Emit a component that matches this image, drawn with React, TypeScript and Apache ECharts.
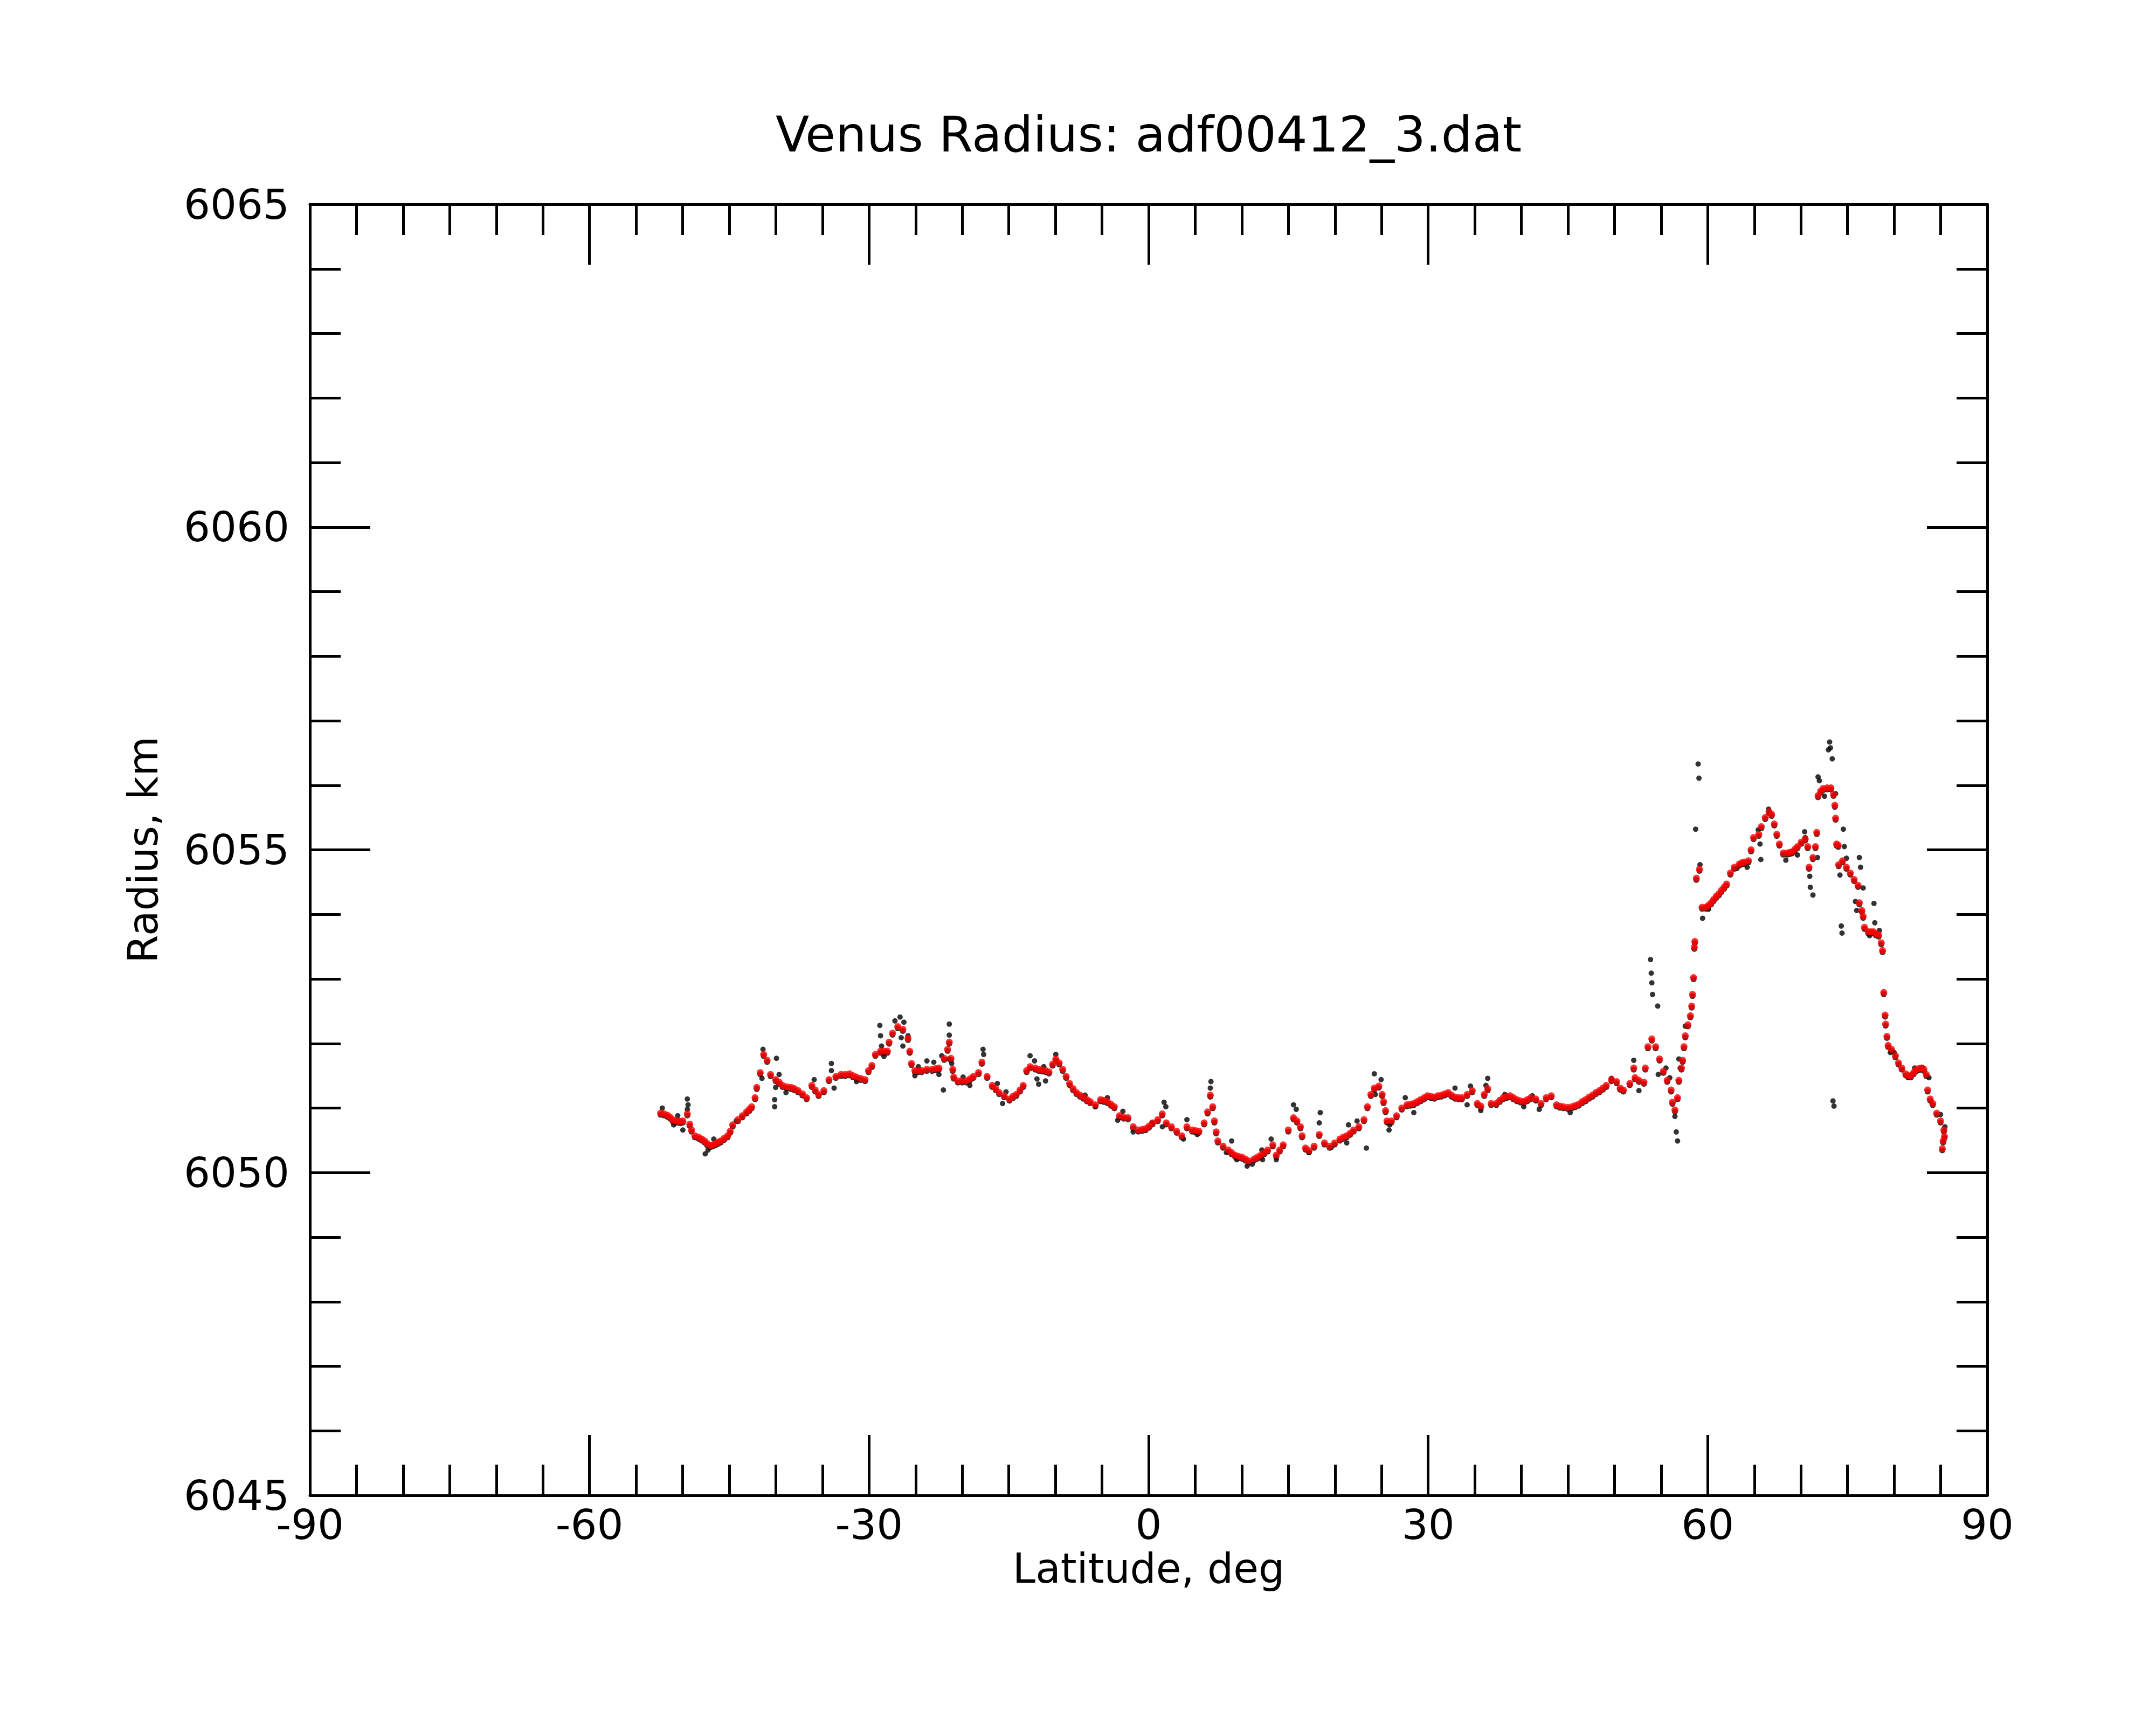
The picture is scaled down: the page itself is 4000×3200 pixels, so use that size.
import React, { useEffect, useRef } from "react";
import * as echarts from "echarts";

const TITLE = "Venus Radius: adf00412_3.dat";
const X_NAME = "Latitude, deg";
const Y_NAME = "Radius, km";
const X_MIN = -90;
const X_MAX = 90;
const X_STEP = 30;
const Y_MIN = 6045;
const Y_MAX = 6065;
const Y_STEP = 5;

// smoothed radius profile (red points): [latitude deg, radius km]
const smoothRadius: [number, number][] = [
  [-52.37, 6050.92], [-52.0, 6050.91], [-51.64, 6050.89], [-51.35, 6050.86], [-51.08, 6050.82],
  [-50.8, 6050.8], [-50.53, 6050.8], [-50.25, 6050.79], [-49.98, 6050.8], [-49.5, 6050.91],
  [-49.24, 6050.75], [-49.05, 6050.66], [-48.69, 6050.57], [-48.3, 6050.55], [-47.95, 6050.52],
  [-47.65, 6050.49], [-47.39, 6050.45], [-47.03, 6050.42], [-46.75, 6050.43], [-46.47, 6050.45],
  [-46.2, 6050.47], [-45.92, 6050.49], [-45.55, 6050.53], [-45.18, 6050.57], [-44.9, 6050.64],
  [-44.63, 6050.74], [-44.07, 6050.82], [-43.6, 6050.88], [-43.15, 6050.94], [-42.85, 6050.98],
  [-42.6, 6051.02], [-42.23, 6051.16], [-42.05, 6051.32], [-41.68, 6051.55], [-41.31, 6051.83],
  [-40.94, 6051.74], [-40.57, 6051.52], [-40.02, 6051.44], [-39.65, 6051.4], [-39.28, 6051.35],
  [-38.82, 6051.33], [-38.36, 6051.32], [-38.0, 6051.3], [-37.62, 6051.27], [-37.15, 6051.22],
  [-36.7, 6051.16], [-36.14, 6051.35], [-35.78, 6051.28], [-35.41, 6051.21], [-34.85, 6051.27],
  [-34.3, 6051.44], [-33.56, 6051.49], [-33.01, 6051.52], [-32.55, 6051.52], [-32.09, 6051.53],
  [-31.72, 6051.5], [-31.35, 6051.48], [-30.9, 6051.46], [-30.43, 6051.44], [-30.06, 6051.58],
  [-29.69, 6051.66], [-29.32, 6051.83], [-28.77, 6051.88], [-28.4, 6051.88], [-28.03, 6051.88],
  [-27.85, 6052.02], [-27.48, 6052.16], [-26.92, 6052.26], [-26.37, 6052.22], [-25.82, 6052.08],
  [-25.63, 6051.88], [-25.45, 6051.69], [-25.08, 6051.58], [-24.71, 6051.58], [-24.34, 6051.58],
  [-23.8, 6051.6], [-23.23, 6051.6], [-22.85, 6051.61], [-22.5, 6051.62], [-21.94, 6051.77],
  [-21.57, 6051.91], [-21.39, 6052.02], [-21.21, 6051.77], [-21.02, 6051.6], [-20.91, 6051.48],
  [-20.47, 6051.42], [-20.0, 6051.42], [-19.55, 6051.42], [-19.18, 6051.45], [-18.81, 6051.49],
  [-18.25, 6051.55], [-17.89, 6051.71], [-17.33, 6051.49], [-16.78, 6051.35], [-16.4, 6051.3],
  [-16.04, 6051.24], [-15.49, 6051.19], [-14.93, 6051.14], [-14.55, 6051.18], [-14.2, 6051.21],
  [-13.8, 6051.28], [-13.46, 6051.35], [-13.09, 6051.58], [-12.72, 6051.64], [-12.17, 6051.62],
  [-11.8, 6051.6], [-11.43, 6051.59], [-11.05, 6051.58], [-10.69, 6051.56], [-10.3, 6051.68],
  [-9.96, 6051.76], [-9.6, 6051.7], [-9.22, 6051.6], [-8.85, 6051.49], [-8.48, 6051.38],
  [-8.1, 6051.3], [-7.74, 6051.24], [-7.37, 6051.2], [-7.0, 6051.17], [-6.63, 6051.13],
  [-6.27, 6051.1], [-5.71, 6051.05], [-5.16, 6051.13], [-4.8, 6051.12], [-4.42, 6051.1],
  [-4.05, 6051.06], [-3.68, 6051.02], [-3.13, 6050.88], [-2.67, 6050.86], [-2.21, 6050.85],
  [-1.65, 6050.71], [-1.1, 6050.66], [-0.68, 6050.67], [-0.32, 6050.68], [0.05, 6050.72],
  [0.42, 6050.77], [0.98, 6050.82], [1.46, 6050.91], [1.9, 6050.77], [2.45, 6050.71],
  [3.01, 6050.64], [3.56, 6050.57], [4.11, 6050.71], [4.67, 6050.66], [5.03, 6050.65],
  [5.4, 6050.64], [5.96, 6050.77], [6.33, 6050.94], [6.62, 6051.2], [6.88, 6051.02],
  [7.06, 6050.8], [7.25, 6050.63], [7.43, 6050.49], [7.99, 6050.41], [8.54, 6050.35],
  [8.9, 6050.31], [9.28, 6050.27], [9.65, 6050.25], [10.01, 6050.24], [10.38, 6050.21],
  [10.75, 6050.18], [11.31, 6050.21], [11.68, 6050.24], [12.04, 6050.27], [12.41, 6050.31],
  [12.78, 6050.35], [13.33, 6050.43], [13.7, 6050.27], [14.07, 6050.35], [14.44, 6050.43],
  [14.99, 6050.66], [15.55, 6050.85], [15.92, 6050.8], [16.29, 6050.71], [16.47, 6050.57],
  [16.84, 6050.38], [17.21, 6050.34], [17.76, 6050.41], [18.31, 6050.59], [18.87, 6050.46],
  [19.42, 6050.41], [19.97, 6050.46], [20.53, 6050.52], [20.9, 6050.55], [21.26, 6050.57],
  [21.63, 6050.61], [22.0, 6050.66], [22.56, 6050.71], [23.11, 6050.82], [23.48, 6051.02],
  [23.85, 6051.21], [24.22, 6051.31], [24.7, 6051.34], [25.06, 6051.21], [25.21, 6051.1],
  [25.43, 6050.96], [25.58, 6050.8], [26.06, 6050.8], [26.61, 6050.88], [27.17, 6051.0],
  [27.72, 6051.05], [28.1, 6051.06], [28.46, 6051.07], [28.83, 6051.1], [29.2, 6051.13],
  [29.57, 6051.16], [29.93, 6051.19], [30.3, 6051.18], [30.67, 6051.17], [31.04, 6051.19],
  [31.41, 6051.2], [31.78, 6051.22], [32.15, 6051.24], [32.5, 6051.2], [32.88, 6051.17],
  [33.25, 6051.16], [33.62, 6051.16], [34.18, 6051.21], [34.73, 6051.27], [35.28, 6051.07],
  [35.65, 6051.03], [36.02, 6051.21], [36.39, 6051.3], [36.76, 6051.07], [37.31, 6051.07],
  [37.68, 6051.12], [38.05, 6051.16], [38.42, 6051.18], [38.79, 6051.19], [39.15, 6051.16],
  [39.52, 6051.13], [39.9, 6051.11], [40.26, 6051.1], [40.63, 6051.13], [41.0, 6051.16],
  [41.55, 6051.14], [42.11, 6051.07], [42.66, 6051.16], [43.21, 6051.19], [43.77, 6051.05],
  [44.13, 6051.03], [44.5, 6051.02], [44.97, 6051.01], [45.43, 6051.02], [45.8, 6051.04],
  [46.16, 6051.06], [46.53, 6051.1], [46.9, 6051.13], [47.27, 6051.17], [47.64, 6051.2],
  [48.0, 6051.24], [48.38, 6051.27], [48.75, 6051.31], [49.11, 6051.35], [49.67, 6051.44],
  [50.22, 6051.41], [50.6, 6051.31], [50.95, 6051.28], [51.64, 6051.38], [52.06, 6051.62],
  [52.2, 6051.47], [52.61, 6051.43], [53.16, 6051.4], [53.3, 6051.62], [53.58, 6051.95],
  [54.0, 6052.07], [54.41, 6051.95], [54.83, 6051.76], [55.24, 6051.57], [55.65, 6051.43],
  [56.07, 6051.28], [56.21, 6051.09], [56.48, 6050.97], [56.76, 6051.16], [56.9, 6051.43],
  [57.18, 6051.62], [57.31, 6051.74], [57.45, 6051.95], [57.59, 6052.12], [57.87, 6052.29],
  [58.14, 6052.43], [58.28, 6052.58], [58.37, 6052.76], [58.48, 6053.02], [58.56, 6053.49],
  [58.62, 6053.58], [58.78, 6054.56], [59.11, 6054.7], [59.39, 6054.11], [59.8, 6054.11],
  [60.08, 6054.14], [60.36, 6054.18], [60.63, 6054.23], [60.91, 6054.28], [61.2, 6054.32],
  [61.46, 6054.37], [61.75, 6054.42], [62.02, 6054.47], [62.43, 6054.64], [62.85, 6054.73],
  [63.4, 6054.78], [63.68, 6054.8], [63.95, 6054.81], [64.37, 6054.83], [64.65, 6055.0],
  [64.92, 6055.19], [65.48, 6055.24], [65.75, 6055.36], [66.17, 6055.5], [66.58, 6055.59],
  [66.86, 6055.55], [67.14, 6055.4], [67.41, 6055.24], [67.69, 6055.09], [68.1, 6054.95],
  [68.52, 6054.95], [68.8, 6054.96], [69.07, 6054.97], [69.35, 6055.01], [69.63, 6055.05],
  [70.04, 6055.12], [70.46, 6055.17], [70.73, 6055.05], [70.87, 6054.73], [71.29, 6054.88],
  [71.56, 6055.05], [71.7, 6055.27], [71.84, 6055.84], [72.12, 6055.91], [72.39, 6055.95],
  [72.81, 6055.96], [73.22, 6055.96], [73.5, 6055.86], [73.64, 6055.69], [73.72, 6055.49],
  [73.83, 6055.09], [74.0, 6055.07], [74.05, 6054.77], [74.47, 6054.83], [74.88, 6054.73],
  [75.3, 6054.64], [75.71, 6054.54], [76.13, 6054.45], [76.27, 6054.18], [76.54, 6054.06],
  [76.68, 6053.97], [76.82, 6053.8], [77.23, 6053.73], [77.5, 6053.73], [77.79, 6053.73],
  [78.05, 6053.7], [78.34, 6053.68], [78.62, 6053.56], [78.76, 6053.44], [78.89, 6052.79],
  [79.03, 6052.44], [79.09, 6052.3], [79.23, 6052.11], [79.36, 6051.97], [79.72, 6051.91],
  [80.14, 6051.81], [80.47, 6051.7], [80.83, 6051.62], [81.25, 6051.53], [81.52, 6051.5],
  [81.8, 6051.5], [82.1, 6051.55], [82.35, 6051.59], [82.63, 6051.61], [82.91, 6051.62],
  [83.2, 6051.6], [83.46, 6051.52], [83.6, 6051.28], [83.87, 6051.14], [84.15, 6051.07],
  [84.57, 6050.92], [84.98, 6050.8], [85.17, 6050.37], [85.26, 6050.49], [85.34, 6050.66],
  [85.4, 6050.56],
];

// raw measurements that stand off the smoothed profile (black points)
const rawRadius: [number, number][] = [
  [-52.19, 6051.0], [-50.97, 6050.74], [-50.53, 6050.88], [-49.98, 6050.66], [-49.5, 6051.14],
  [-49.42, 6051.05], [-49.5, 6050.98], [-47.58, 6050.29], [-47.28, 6050.35], [-46.66, 6050.52],
  [-44.26, 6050.8], [-41.38, 6051.91], [-39.94, 6051.77], [-41.49, 6051.46], [-40.13, 6051.13],
  [-40.13, 6051.02], [-40.02, 6051.32], [-39.65, 6051.52], [-38.91, 6051.24], [-35.89, 6051.44],
  [-34.04, 6051.69], [-34.04, 6051.58], [-33.75, 6051.31], [-31.35, 6051.41], [-28.84, 6052.28],
  [-28.77, 6052.12], [-28.66, 6051.96], [-28.4, 6051.8], [-27.22, 6052.35], [-26.67, 6052.41],
  [-26.26, 6052.33], [-26.55, 6052.09], [-26.37, 6051.96], [-25.82, 6052.12], [-25.08, 6051.5],
  [-24.71, 6051.64], [-23.79, 6051.73], [-23.05, 6051.71], [-22.5, 6051.52], [-22.2, 6051.81],
  [-22.02, 6051.28], [-21.39, 6052.3], [-21.39, 6052.13], [-21.46, 6051.76], [-21.13, 6051.69],
  [-19.91, 6051.48], [-19.18, 6051.35], [-17.77, 6051.91], [-17.7, 6051.83], [-16.23, 6051.38],
  [-15.67, 6051.07], [-15.3, 6051.25], [-12.72, 6051.81], [-12.24, 6051.73], [-11.98, 6051.45],
  [-11.8, 6051.37], [-11.06, 6051.42], [-11.25, 6051.64], [-9.96, 6051.83], [-6.82, 6051.2],
  [-5.71, 6051.02], [-4.42, 6051.16], [-3.32, 6050.81], [-2.76, 6050.95], [-1.66, 6050.63],
  [0.37, 6050.77], [1.66, 6051.09], [1.85, 6051.02], [1.48, 6050.71], [3.74, 6050.52],
  [4.11, 6050.82], [5.22, 6050.59], [6.69, 6051.41], [6.62, 6051.31], [8.35, 6050.31],
  [8.91, 6050.49], [9.46, 6050.2], [10.57, 6050.1], [11.12, 6050.13], [12.15, 6050.35],
  [12.23, 6050.2], [13.15, 6050.52], [13.7, 6050.2], [15.55, 6051.05], [15.84, 6050.98],
  [18.42, 6050.93], [18.31, 6050.77], [17.21, 6050.31], [19.6, 6050.39], [21.26, 6050.46],
  [21.45, 6050.74], [22.37, 6050.8], [23.37, 6050.38], [24.22, 6051.53], [24.95, 6051.44],
  [24.33, 6051.21], [25.8, 6050.66], [25.87, 6050.74], [27.54, 6051.16], [28.46, 6050.93],
  [32.88, 6051.31], [34.54, 6051.34], [34.18, 6051.05], [35.65, 6050.96], [36.39, 6051.46],
  [36.2, 6051.35], [38.23, 6051.21], [40.26, 6051.02], [41.18, 6051.19], [41.92, 6050.98],
  [45.24, 6050.93], [49.67, 6051.46], [52.06, 6051.74], [52.62, 6051.27], [53.86, 6053.3],
  [53.94, 6053.09], [54.0, 6052.94], [54.08, 6052.76], [54.63, 6052.58], [54.69, 6051.52],
  [55.52, 6051.62], [55.93, 6051.47], [56.48, 6050.87], [56.62, 6050.63], [56.76, 6050.49],
  [57.04, 6051.62], [56.9, 6051.76], [57.59, 6052.27], [58.7, 6055.32], [58.97, 6056.33],
  [59.06, 6056.11], [59.17, 6054.77], [59.45, 6053.94], [60.08, 6054.08], [63.12, 6054.71],
  [64.23, 6054.73], [65.42, 6055.31], [65.61, 6055.09], [65.7, 6054.85], [66.53, 6055.63],
  [68.38, 6054.84], [69.63, 6054.92], [70.4, 6055.28], [70.46, 6055.19], [70.95, 6054.59],
  [71.01, 6054.42], [71.29, 6054.3], [71.78, 6054.88], [71.84, 6056.13], [71.98, 6056.07],
  [72.53, 6055.83], [73.08, 6056.67], [73.17, 6056.58], [72.95, 6056.55], [73.36, 6056.41],
  [73.72, 6055.87], [74.55, 6055.32], [74.66, 6055.05], [74.88, 6054.87], [74.19, 6054.61],
  [74.33, 6053.82], [74.41, 6053.71], [73.44, 6051.11], [73.55, 6051.03], [76.27, 6054.88],
  [76.4, 6054.73], [76.68, 6054.41], [75.85, 6054.2], [75.99, 6054.06], [77.84, 6054.17],
  [77.93, 6053.87], [78.42, 6053.75], [77.37, 6053.67], [79.59, 6051.86], [80.0, 6051.86],
  [81.52, 6051.48], [82.21, 6051.62], [83.04, 6051.63], [83.74, 6051.47], [84.98, 6050.9],
  [85.45, 6050.71],
];

const FONT = "DejaVu Sans";
const FS = 77;

function axisParts(minorSplit: number, labels: boolean, labelMargin: number) {
  return {
    axisLine: { show: true, onZero: false, lineStyle: { color: "#000", width: 5 } },
    axisTick: { show: true, inside: true, length: 112, lineStyle: { color: "#000", width: 5 } },
    minorTick: { show: true, splitNumber: minorSplit, length: 57, lineStyle: { color: "#000", width: 5 } },
    splitLine: { show: false },
    minorSplitLine: { show: false },
    axisLabel: {
      show: labels,
      fontSize: FS,
      fontFamily: FONT,
      color: "#000",
      margin: labelMargin,
      formatter: (v: number) => String(v),
    },
  };
}

export default function App() {
  const ref = useRef<HTMLDivElement>(null);
  useEffect(() => {
    if (!ref.current) return;
    const chart = echarts.init(ref.current, undefined, { renderer: "svg" });
    chart.setOption({
      animation: false,
      backgroundColor: "#fff",
      title: {
        text: TITLE,
        left: 2131,
        top: 204,
        textAlign: "center",
        padding: 0,
        textStyle: { fontSize: 91, fontFamily: FONT, fontWeight: "normal", color: "#000" },
      },
      grid: { left: 575, right: 313, top: 379, bottom: 426, containLabel: false },
      xAxis: [
        {
          type: "value", position: "bottom", min: X_MIN, max: X_MAX, interval: X_STEP,
          name: X_NAME, nameLocation: "middle", nameGap: 93,
          nameTextStyle: { fontSize: 76, fontFamily: FONT, color: "#000" },
          ...axisParts(6, true, 16),
        },
        {
          type: "value", position: "top", min: X_MIN, max: X_MAX, interval: X_STEP,
          ...axisParts(6, false, 10),
        },
      ],
      yAxis: [
        {
          type: "value", position: "left", min: Y_MIN, max: Y_MAX, interval: Y_STEP,
          name: Y_NAME, nameLocation: "middle", nameGap: 272, nameRotate: 90,
          nameTextStyle: { fontSize: 76, fontFamily: FONT, color: "#000" },
          ...axisParts(5, true, 38),
        },
        {
          type: "value", position: "right", min: Y_MIN, max: Y_MAX, interval: Y_STEP,
          ...axisParts(5, false, 10),
        },
      ],
      series: [
        {
          type: "scatter", name: "raw-under", data: smoothRadius, xAxisIndex: 0, yAxisIndex: 0,
          symbol: "circle", symbolSize: 11, symbolOffset: [0, 3], itemStyle: { color: "#000" }, z: 2, silent: true,
        },
        {
          type: "scatter", name: "raw", data: rawRadius, xAxisIndex: 0, yAxisIndex: 0,
          symbol: "circle", symbolSize: 10, itemStyle: { color: "#000" }, z: 2, silent: true,
        },
        {
          type: "scatter", name: "smooth", data: smoothRadius, xAxisIndex: 0, yAxisIndex: 0,
          symbol: "circle", symbolSize: 13, itemStyle: { color: "#ff0000" }, z: 3, silent: true,
        },
      ],
    });
    return () => chart.dispose();
  }, []);
  return (
    <div
      ref={ref}
      style={{ position: "absolute", left: 0, top: 0, width: 4000, height: 3200, background: "#fff" }}
    />
  );
}
